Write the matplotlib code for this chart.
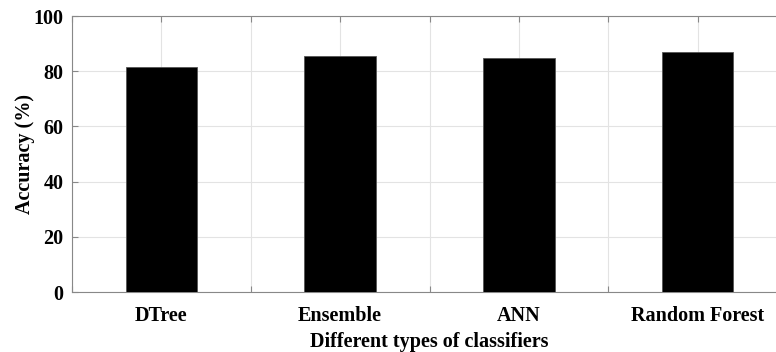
import numpy as np
import matplotlib.pyplot as plt

classifiers = ["DTree", "Ensemble", "ANN", "Random Forest"]
accuracy = [81.6, 85.5, 84.9, 86.9]

plt.rcParams['font.family'] = ['Liberation Serif', 'DejaVu Serif']
plt.rcParams['font.weight'] = 'bold'

fig = plt.figure(figsize=(7.76, 3.52), dpi=100)
ax = fig.add_axes([72 / 776, 1 - 292 / 352, 715 / 776, 276 / 352])

ind = np.arange(1, len(classifiers) + 1)
ax.bar(ind, accuracy, 0.4, color='black', edgecolor='#555555', linewidth=0.6, zorder=3)

ax.set_xlim(0.5, 4.5)
ax.set_ylim(0, 100)
ticks = np.arange(0.5, 4.6, 0.5)
ax.set_xticks(ticks)
ax.set_xticklabels(['' if t % 1 else classifiers[int(t) - 1] for t in ticks])
ax.set_yticks(np.arange(0, 101, 20))
ax.tick_params(direction='in', length=4, color='#888888', labelsize=14.5, top=True)
ax.tick_params(axis='x', pad=10)
ax.tick_params(axis='y', pad=6)
for s in ax.spines.values():
    s.set_color('#888888')
ax.spines['right'].set_visible(False)
ax.grid(True, color='#e3e3e3', linewidth=0.8, zorder=0)
ax.set_axisbelow(True)

ax.set_ylabel('Accuracy (%)', fontsize=14.5, fontweight='bold')
ax.set_xlabel('Different types of classifiers', fontsize=14.5, fontweight='bold')
ax.xaxis.set_label_coords(0.5, -0.145)
ax.yaxis.set_label_coords(-0.052, 0.5)

plt.savefig('out.png', dpi=100)
